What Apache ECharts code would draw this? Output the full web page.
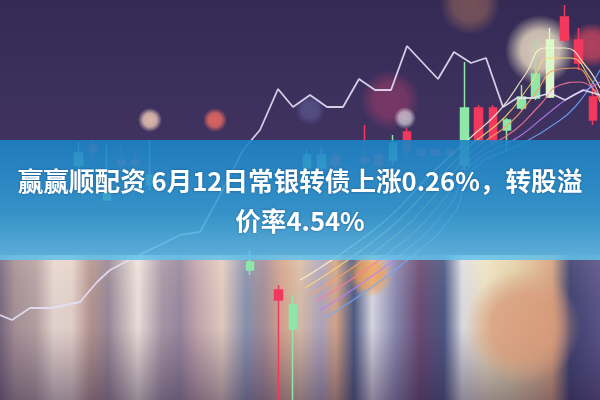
<!DOCTYPE html>
<html><head><meta charset="utf-8">
<script src="https://cdn.jsdelivr.net/npm/echarts@6/dist/echarts.min.js"></script>
<style>html,body{margin:0;padding:0;background:#3a2e58}#c{width:600px;height:400px}</style>
</head><body><div id="c"></div>
<script>
// ---- text ----
const titleLine1 = '赢赢顺配资 6月12日常银转债上涨0.26%，转股溢';
const titleLine2 = '价率4.54%';

// ---- main price line (x position units, price units) ----
const lineX = [0,12,30,52,80,97,110,133,160,180,200,220,243,260,278,293,310,327,343,359,375,391,407,438,454,471,486,503,517,533,550,565,583,600];
const lineV = [85,80,92,92,98,118,130,142,155,165,168,205,250,270,311,293,305,293,293,321,310,310,354,321,348,337,342,293,302,302,307,300,310,305];

// ---- candles (category index, open, close, low, high) ----
const candleIdx   = [5,6,7,8,9,10,17,19,20,21,22,23,25,26,27,28,29,30,31,32,33,34,35,36,37,38,39,40,41];
const candleOpen  = [235,255,200,240,240,215,130,110,71,232,232,245,242,245,240,268,250,250,250,235,292,292,270,292,302,303,383,360,303];
const candleClose = [247,248,217,235,235,225,138,100,95,245,245,235,238,235,257,250,245,245,245,292,258,258,280,303,326,360,360,337,280];
const candleLow   = [230,242,200,230,225,210,125,0,0,225,228,230,220,230,235,245,243,243,243,230,255,255,250,290,300,302,358,330,275];
const candleHigh  = [258,260,257,257,250,260,150,115,105,250,252,250,275,250,265,272,252,252,252,338,295,295,282,315,360,372,395,372,315];
const candleCount = 42;

// ---- moving-average curves ----
const ma1 = [[300,120],[380,175],[430,225],[470,262],[500,290],[525,325],[545,352],[565,352],[585,335],[600,312]];
const ma2 = [[305,112],[385,168],[435,218],[470,254],[505,283],[530,315],[550,342],[570,342],[590,322],[600,302]];
const ma3 = [[310,105],[390,160],[440,210],[470,247],[510,277],[535,306],[555,330],[575,332],[595,308],[600,298]];
const ma4 = [[315,98],[395,152],[445,202],[470,240],[515,270],[540,295],[560,315],[580,318],[600,303]];
const ma5 = [[320,90],[400,145],[450,195],[470,234],[520,264],[545,284],[570,303],[590,312],[600,318]];
const ma6 = [[325,82],[405,138],[455,188],[470,228],[525,258],[550,273],[575,293],[600,330]];
const maColors = ['#fff8d0','#ffd870','#ffa060','#ff7aa0','#b880ff','#70a8ff'];

// ---- bokeh lights (x, y-value, size, colour, opacity) ----
const bokehX = [150,215,390,405,470,540,592,523,370,310];
const bokehV = [280,280,300,282,395,350,355,73,125,290];
const bokehS = [24,24,60,22,60,70,45,115,45,30];
const bokehC = ['#ffd8c0','#ff7060','#c04070','#ffffff','#c08060','#fff0d0','#ff5060','#d89a7a','#f0a050','#6a6aa8'];
const bokehO = [0.8,0.8,0.45,0.6,0.45,0.8,0.6,0.85,0.8,0.5];

const categories = [];
for (let i = 0; i < candleCount; i++) categories.push('K' + (i + 1));
const candleData = categories.map(() => '-');
candleIdx.forEach((k, j) => {
  const item = { value: [candleOpen[j], candleClose[j], candleLow[j], candleHigh[j]] };
  if (k === 38) item.itemStyle = { color: '#dcf8c8', borderColor: '#dcf8c8' };
  candleData[k] = item;
});

function rgba(hex, a) {
  const n = parseInt(hex.slice(1), 16);
  return 'rgba(' + (n >> 16 & 255) + ',' + (n >> 8 & 255) + ',' + (n & 255) + ',' + a + ')';
}
function radial(c) {
  return { type: 'radial', x: 0.5, y: 0.5, r: 0.5, colorStops: [
    { offset: 0, color: rgba(c, 1) }, { offset: 0.55, color: rgba(c, 0.9) },
    { offset: 1, color: rgba(c, 0) } ], global: false };
}
const bokehData = bokehX.map((x, i) => ({
  value: [x, bokehV[i]], symbolSize: bokehS[i],
  itemStyle: { color: radial(bokehC[i]), opacity: bokehO[i] }
}));

const maSeries = [ma1, ma2, ma3, ma4, ma5, ma6].map((d, i) => ({
  type: 'line', xAxisIndex: 0, yAxisIndex: 0, data: d, smooth: true, symbol: 'none',
  lineStyle: { color: maColors[i], width: 1.2, opacity: 0.85 }, z: 3, silent: true
}));

const stripeStops = [
  [0,'#7a6a80'],[0.025,'#a89498'],[0.06,'#b8a4a4'],[0.09,'#eadad2'],[0.12,'#e8d6cc'],
  [0.15,'#b89890'],[0.18,'#9a8a98'],[0.23,'#f0e6de'],[0.27,'#a89aa8'],[0.3,'#9a8aa0'],
  [0.33,'#c8aab0'],[0.37,'#e6d0c2'],[0.41,'#8a94b0'],[0.44,'#a89098'],[0.47,'#d8a890'],
  [0.5,'#dcc0a8'],[0.535,'#b0a8c0'],[0.56,'#d8a888'],[0.59,'#4c5a84'],[0.62,'#dcdce6'],
  [0.66,'#8a88b0'],[0.7,'#6a4a72'],[0.74,'#4a5884'],[0.77,'#e0e0e4'],[0.81,'#f0e6c4'],
  [0.86,'#e6d2a8'],[0.92,'#d8a480'],[0.95,'#3e4272'],[1,'#5a5488']
].map(s => ({ offset: s[0], color: s[1] }));

const titleStyle = {
  color: '#ffffff', fontSize: 25.6, fontWeight: 'bold', lineHeight: 40,
  fontFamily: '"Noto Sans CJK SC", "Noto Sans", sans-serif',
  textShadowColor: 'rgba(0,40,90,0.45)', textShadowBlur: 3
};

const chart = echarts.init(document.getElementById('c'), null, { renderer: 'canvas' });
chart.setOption({
  animation: false,
  backgroundColor: '#3a2e58',
  grid: { left: 0, right: 0, top: 0, bottom: 0 },
  xAxis: [
    { type: 'value', min: 0, max: 600, show: false },
    { type: 'category', data: categories, boundaryGap: true, show: false }
  ],
  yAxis: [{ type: 'value', min: 0, max: 400, show: false }],
  title: [
    { text: titleLine1, left: 'center', top: 161, padding: 0, z: 20, textStyle: titleStyle },
    { text: titleLine2, left: 'center', top: 201, padding: 0, z: 20, textStyle: titleStyle }
  ],
  graphic: [
    { type: 'rect', z: -5, silent: true, shape: { x: 0, y: 0, width: 600, height: 260 },
      style: { fill: { type: 'linear', x: 0, y: 0, x2: 0, y2: 1, colorStops: [
        { offset: 0, color: '#342a54' }, { offset: 0.5, color: '#3f325f' }, { offset: 1, color: '#4a3a68' } ] } } },
    { type: 'rect', z: -4, silent: true, shape: { x: 0, y: 255, width: 600, height: 145 },
      style: { fill: { type: 'linear', x: 0, y: 0, x2: 1, y2: 0, colorStops: stripeStops } } },
    { type: 'rect', z: -3, silent: true, shape: { x: 0, y: 255, width: 600, height: 145 },
      style: { fill: { type: 'linear', x: 0, y: 0, x2: 0, y2: 1, colorStops: [
        { offset: 0, color: 'rgba(255,240,230,0.1)' }, { offset: 0.5, color: 'rgba(60,40,80,0.05)' },
        { offset: 1, color: 'rgba(40,25,60,0.45)' } ] } } },
    { type: 'rect', z: 10, silent: true, shape: { x: 0, y: 140, width: 600, height: 120 },
      style: { fill: { type: 'linear', x: 0, y: 0, x2: 0, y2: 1, colorStops: [
        { offset: 0, color: 'rgba(28,130,198,0.9)' }, { offset: 0.6, color: 'rgba(50,160,215,0.86)' },
        { offset: 1, color: 'rgba(100,195,236,0.86)' } ] } } }
  ],
  series: [
    { type: 'scatter', xAxisIndex: 0, yAxisIndex: 0, data: bokehData, z: 1, silent: true },
    { type: 'candlestick', xAxisIndex: 1, yAxisIndex: 0, data: candleData, barWidth: 8, z: 2,
      itemStyle: { color: '#8ee6a8', color0: '#f2385c', borderColor: '#8ee6a8', borderColor0: '#f2385c', borderWidth: 1.5 } },
    ...maSeries,
    { type: 'line', xAxisIndex: 0, yAxisIndex: 0, data: lineX.map((x, i) => [x, lineV[i]]),
      symbol: 'none', z: 4, lineStyle: { color: '#e4e0f6', width: 1.8, opacity: 0.9 } }
  ]
});
</script></body></html>
